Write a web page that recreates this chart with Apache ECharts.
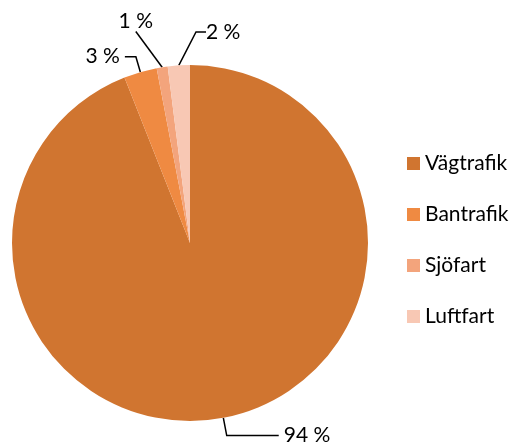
<!DOCTYPE html>
<html>
<head>
<meta charset="utf-8">
<script src="https://cdn.jsdelivr.net/npm/echarts@6/dist/echarts.min.js"></script>
<style>
  html, body { margin: 0; padding: 0; background: #fff; }
  #chart { width: 518px; height: 446px; }
</style>
</head>
<body>
<div id="chart"></div>
<script>
// Share of transport by mode (%)
const categories = ['Vägtrafik', 'Bantrafik', 'Sjöfart', 'Luftfart'];
const shares = [94, 3, 1, 2];
const colors = ['#D07530', '#EF8A42', '#F3A47C', '#F8C8B4'];

// per-slice label line lengths [length, length2]
const lineLengths = [[18, 52], [16, 11], [30, 0], [18, 10]];

const chart = echarts.init(document.getElementById('chart'));

const option = {
    animation: false,
    color: colors,
    legend: {
        orient: 'vertical',
        left: 402,
        top: 148,
        itemWidth: 13,
        itemHeight: 13,
        itemGap: 30,
        icon: 'rect',
        textStyle: {
            fontFamily: 'Lato',
            fontSize: 21,
            color: '#000'
        },
        data: categories
    },
    series: [
        {
            type: 'pie',
            center: [190, 243],
            radius: 178,
            startAngle: 90,
            clockwise: true,
            avoidLabelOverlap: false,
            label: {
                show: true,
                formatter: '{c} %',
                fontFamily: 'Lato',
                fontSize: 21,
                color: '#000',
                distanceToLabelLine: 5
            },
            labelLine: {
                show: true,
                lineStyle: { color: '#000', width: 1.5 }
            },
            labelLayout: function (params) {
                // small slices at the top get hand-placed labels
                if (params.dataIndex === 2) {
                    return { x: 153, y: 21, align: 'right', verticalAlign: 'middle' };
                }
                if (params.dataIndex === 3) {
                    return { x: 206, y: 32, align: 'left', verticalAlign: 'middle' };
                }
                return {};
            },
            data: categories.map((name, i) => ({
                name: name,
                value: shares[i],
                labelLine: { length: lineLengths[i][0], length2: lineLengths[i][1] }
            }))
        }
    ]
};

chart.setOption(option);
</script>
</body>
</html>
